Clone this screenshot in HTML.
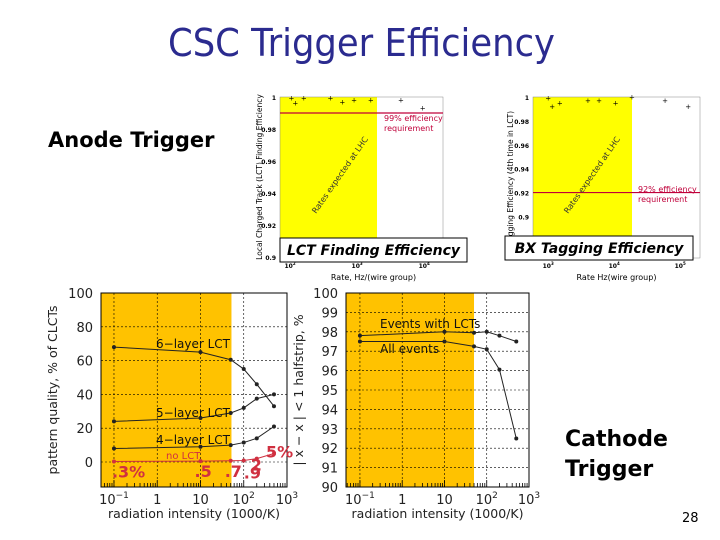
<!DOCTYPE html>
<html><head><meta charset="utf-8">
<style>
html,body{margin:0;padding:0;background:#fff;}
svg{display:block;font-family:"DejaVu Sans","Liberation Sans",sans-serif;}
</style></head>
<body>
<svg id="s" width="720" height="540" viewBox="0 0 720 540" xmlns="http://www.w3.org/2000/svg">
<text x="168" y="56" textLength="387" lengthAdjust="spacingAndGlyphs" font-size="38" fill="#2b2b8f">CSC Trigger Efficiency</text>
<text x="48" y="147" font-size="21" font-weight="bold" fill="#000">Anode Trigger</text>
<text x="565" y="446" font-size="22" font-weight="bold" fill="#000">Cathode</text>
<text x="565" y="476" font-size="22" font-weight="bold" fill="#000">Trigger</text>
<text x="682" y="522" font-size="13" fill="#000">28</text>
<g id="c1"></g>
<g id="c2"></g>
<g id="c3"></g>
<g id="c4"></g>
</svg>
<script>
// ---- data ----
const lctX = [105,120,160,400,600,900,1600,4500,9500];
const lctY = [0.9994,0.9963,0.9994,0.9994,0.997,0.998,0.998,0.998,0.993];
const lctReq = 0.99;
const bxX = [1000,1150,1500,4000,5900,10500,18600,59000,132000];
const bxY = [0.999,0.992,0.995,0.997,0.997,0.995,1.0,0.997,0.992];
const bxReq = 0.92;
const lctYTicks = [1,0.98,0.96,0.94,0.92,0.9];
const lctYTickLabels = ["1","0.98","0.96","0.94","0.92","0.9"];
const bxYTicks = [1,0.98,0.96,0.94,0.92,0.9,0.88];
const bxYTickLabels = ["1","0.98","0.96","0.94","0.92","0.9","0.88"];
const radX = [0.1,10,50,100,200,500];
const layer6 = [68,65,60.5,55,46,33];
const layer5 = [24,26,29,32,37.5,40];
const layer4 = [8,9,10,11.5,14,21];
const noLct = [0.3,0.5,0.7,0.9,2,5];
const noLctLabels = [".3%",".5",".7",".9","2","5%"];
const pqYTicks = [100,80,60,40,20,0];
const hsEvents = [97.8,98,97.95,98,97.8,97.5];
const hsAll = [97.5,97.5,97.25,97.1,96.05,92.5];
const hsYTicks = [100,99,98,97,96,95,94,93,92,91,90];

const NS="http://www.w3.org/2000/svg";
function mk(p,tag,at,txt){const e=document.createElementNS(NS,tag);for(const k in at)e.setAttribute(k,at[k]);if(txt!==undefined)e.textContent=txt;p.appendChild(e);return e;}
function logScale(d0,d1,r0,r1){return v=>r0+(Math.log10(v)-d0)/(d1-d0)*(r1-r0);}
function linScale(d0,d1,r0,r1){return v=>r0+(v-d0)/(d1-d0)*(r1-r0);}

// ---- top charts ----
function topChart(g,o){
  const x=logScale(o.lx0,o.lx1,o.L,o.R), y=linScale(o.y0,o.y1,o.B,o.T);
  let e=mk(g,'rect',{x:o.L,y:o.T,width:o.yel-o.L,height:o.B-o.T,fill:'#ffff00'});
  
  e=mk(g,'rect',{x:o.L,y:o.T,width:o.R-o.L,height:o.B-o.T,fill:'none',stroke:'#888','stroke-width':0.5});
  
  o.yt.forEach((v,i)=>{e=mk(g,'text',{x:o.L-4,y:y(v)+3,'text-anchor':'end','font-size':6,'font-weight':'bold'},o.ytl[i]);
    });
  e=mk(g,'line',{x1:o.L,x2:o.R,y1:y(o.req),y2:y(o.req),stroke:'#c0003a','stroke-width':1.2});
  
  o.xs.forEach((v,i)=>{e=mk(g,'text',{x:x(v),y:y(o.ys[i])+2.5,'text-anchor':'middle','font-size':7},'+');
    });
  e=mk(g,'text',{x:o.rx,y:o.ry,'font-size':8,fill:'#c0003a'},o.req1);
  
  e=mk(g,'text',{x:o.rx,y:o.ry+10,'font-size':8,fill:'#c0003a'},'requirement');
  
  e=mk(g,'text',{x:o.lhcx,y:o.lhcy,'font-size':8,fill:'#333',transform:`rotate(-55 ${o.lhcx} ${o.lhcy})`},'Rates expected at LHC');
  
  e=mk(g,'text',{x:o.ytx,y:(o.T+o.B)/2,'font-size':7.5,'text-anchor':'middle',transform:`rotate(-90 ${o.ytx} ${(o.T+o.B)/2})`},o.ytitle);
  
  o.xt.forEach(p=>{e=mk(g,'text',{x:x(Math.pow(10,p)),y:o.xty,'text-anchor':'middle','font-size':6,'font-weight':'bold'},'10');
    mk(e,'tspan',{dy:-3,'font-size':4},String(p));
    });
  e=mk(g,'text',{x:(o.L+o.R)/2+o.xtdx,y:o.xty+12,'text-anchor':'middle','font-size':8},o.xtitle);
  
  e=mk(g,'rect',{x:o.bx,y:o.by,width:o.bw,height:24,fill:'#fff',stroke:'#000','stroke-width':1});
  
  e=mk(g,'text',{x:o.bx+o.bw/2,y:o.by+17,'text-anchor':'middle','font-size':14,'font-weight':'bold','font-style':'italic'},o.caption);
  
}
topChart(document.getElementById('c1'),{L:280,R:443,T:97,B:257,lx0:1.85,lx1:4.28,y0:0.9,y1:1,yel:377,
  xs:lctX,ys:lctY,req:lctReq,yt:lctYTicks,ytl:lctYTickLabels,req1:'99% efficiency',rx:384,ry:121,lhcx:316,lhcy:214,
  ytx:262,ytitle:'Local Charged Track (LCT) Finding Efficiency',xt:[2,3,4],xty:268,xtdx:12,xtitle:'Rate, Hz/(wire group)',
  bx:280,by:238,bw:187,caption:'LCT Finding Efficiency'});
topChart(document.getElementById('c2'),{L:533,R:700,T:97,B:258,lx0:2.77,lx1:5.3,y0:0.8652,y1:1,yel:632,
  xs:bxX,ys:bxY,req:bxReq,yt:bxYTicks,ytl:bxYTickLabels,req1:'92% efficiency',rx:638,ry:192,lhcx:568,lhcy:214,
  ytx:513,ytitle:'Tagging Efficiency (4th time in LCT)',xt:[3,4,5],xty:268,xtdx:0,xtitle:'Rate Hz(wire group)',
  bx:505,by:236,bw:188,caption:'BX  Tagging Efficiency'});

// ---- bottom charts ----
function bottomFrame(g,o){
  const x=logScale(o.lx0,3,o.L,o.R), y=linScale(o.y0,o.y1,o.B,o.T);
  let e=mk(g,'rect',{x:o.L,y:o.T,width:x(o.yel)-o.L,height:o.B-o.T,fill:'#ffc200'});
  
  [0.1,1,10,100].forEach(v=>{e=mk(g,'line',{x1:x(v),x2:x(v),y1:o.T,y2:o.B,stroke:'#000','stroke-width':0.6,'stroke-dasharray':'2,2'});
    });
  o.yt.forEach(v=>{e=mk(g,'line',{x1:o.L,x2:o.R,y1:y(v),y2:y(v),stroke:'#000','stroke-width':0.6,'stroke-dasharray':'2,2'});
    
    e=mk(g,'text',{x:o.L-8,y:y(v)+5,'text-anchor':'end','font-size':13,fill:'#222'},String(v));
    });
  for(let p=Math.ceil(o.lx0)-1;p<3;p++)for(let m=1;m<10;m++){const v=m*Math.pow(10,p);if(Math.log10(v)<o.lx0)continue;
    e=mk(g,'line',{x1:x(v),x2:x(v),y1:o.B,y2:o.B-(m===1?7:4),stroke:'#000','stroke-width':0.8});
    }
  e=mk(g,'rect',{x:o.L,y:o.T,width:o.R-o.L,height:o.B-o.T,fill:'none',stroke:'#000','stroke-width':1});
  
  [[-1,'10',true],[0,'1'],[1,'10'],[2,'10',true],[3,'10',true]].forEach(t=>{
    const sup=t[2]?(t[0]===-1?'−1':String(t[0])):null;
    e=mk(g,'text',{x:x(Math.pow(10,t[0])),y:o.B+17,'text-anchor':'middle','font-size':13,fill:'#222'},t[1]);
    if(sup)mk(e,'tspan',{dy:-6,'font-size':9},sup);
    });
  e=mk(g,'text',{x:(o.L+o.R)/2,y:o.B+31,'text-anchor':'middle','font-size':12.5,fill:'#222'},'radiation intensity (1000/K)');
  
  e=mk(g,'text',{x:o.ytx,y:(o.T+o.B)/2,'text-anchor':'middle','font-size':12.5,fill:'#222',transform:`rotate(-90 ${o.ytx} ${(o.T+o.B)/2})`},o.ytitle);
  
  return {x,y};
}
function series(g,sc,xs,ys,name,color){
  const pts=xs.map((v,i)=>sc.x(v)+','+sc.y(ys[i])).join(' ');
  let e=mk(g,'polyline',{points:pts,fill:'none',stroke:color,'stroke-width':1});
  
  xs.forEach((v,i)=>{e=mk(g,'circle',{cx:sc.x(v),cy:sc.y(ys[i]),r:2,fill:color});
    });
}
function lbl(g,x,y,t,name,c,fs){const e=mk(g,'text',{x:x,y:y,'font-size':fs||12,fill:c||'#111'},t);
  return e;}

const g3=document.getElementById('c3');
const s3=bottomFrame(g3,{L:101,R:287,T:293,B:487,lx0:-1.3,y0:-14.8,y1:100,yel:52,yt:pqYTicks,ytx:57,ytitle:'pattern quality, % of CLCTs'});
series(g3,s3,radX,layer6,'six-layer','#222');
series(g3,s3,radX,layer5,'five-layer','#222');
series(g3,s3,radX,layer4,'four-layer','#222');
series(g3,s3,radX,noLct,'no-lct','#d03040');
lbl(g3,156,348,'6−layer LCT','six-layer-label');
lbl(g3,156,417,'5−layer LCT','five-layer-label');
lbl(g3,156,444,'4−layer LCT','four-layer-label');
lbl(g3,166,459,'no LCT','no-lct-label','#d03040',10);
const nlOff=[[-2,16],[-6,16],[-6,16],[0,18],[-6,12],[-8,4]];
radX.forEach((v,i)=>{lbl(g3,s3.x(v)+nlOff[i][0],s3.y(noLct[i])+nlOff[i][1],noLctLabels[i],'no-lct-value','#d03040',16).setAttribute('font-weight','bold');});

const g4=document.getElementById('c4');
const s4=bottomFrame(g4,{L:346,R:529,T:293,B:487,lx0:-1.33,y0:90,y1:100,yel:50,yt:hsYTicks,ytx:303,ytitle:'| x  − x     | < 1 halfstrip, %'});
series(g4,s4,radX,hsEvents,'events-with-lcts','#222');
series(g4,s4,radX,hsAll,'all-events','#222');
lbl(g4,380,328,'Events with LCTs','events-with-lcts-label');
lbl(g4,380,353,'All events','all-events-label');
</script>
</body></html>
